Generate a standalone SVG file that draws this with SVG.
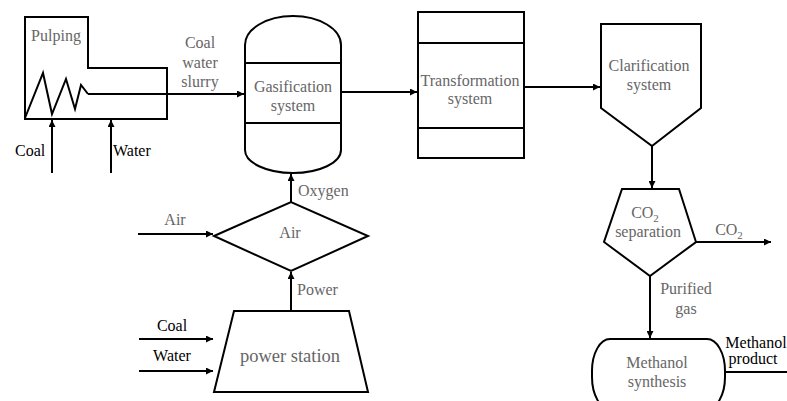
<svg xmlns="http://www.w3.org/2000/svg" width="787" height="401" viewBox="0 0 787 401" font-family="'Liberation Serif', 'Times New Roman', serif">
<defs>
<marker id="ah" viewBox="0 0 10 10" refX="10" refY="5" markerWidth="8" markerHeight="7" markerUnits="userSpaceOnUse" orient="auto">
<path d="M0,0 L10,5 L0,10 z" fill="#000"/>
</marker>
</defs>
<style>
.s{fill:#fff;stroke:#000;stroke-width:2;stroke-linejoin:miter}
.c{fill:none;stroke:#000;stroke-width:2}
.a{fill:none;stroke:#000;stroke-width:2;marker-end:url(#ah)}
.t{font-family:'Liberation Serif','Times New Roman',serif;font-size:16px;fill:#666}
.k{fill:#000}
.m{text-anchor:middle}
.big{font-size:18.5px}
</style>
<rect width="787" height="401" fill="#fff"/>
<g id="pulping">
<path class="s" d="M25,17 H88 V68 H167 V119 H25 Z"/>
<path class="c" d="M25,118 L43,73 L52,114 L66,79 L75,109 L81,85 L88,94"/>
<text class="t m" x="56" y="41">Pulping</text>
</g>
<g id="gasification">
<path class="s" d="M245,45 A48,29 0 0 1 341,45 V150 A48,23 0 0 1 245,150 Z"/>
<line class="c" x1="245" y1="63" x2="341" y2="63"/>
<line class="c" x1="245" y1="123" x2="341" y2="123"/>
<text class="t m" x="293" y="92">Gasification</text>
<text class="t m" x="293" y="111">system</text>
</g>
<g id="transformation">
<rect class="s" x="418" y="12" width="106" height="146"/>
<line class="c" x1="418" y1="43" x2="524" y2="43"/>
<line class="c" x1="418" y1="128" x2="524" y2="128"/>
<text class="t m" x="470" y="86">Transformation</text>
<text class="t m" x="470" y="104">system</text>
</g>
<g id="clarification">
<path class="s" d="M601,24 H701 V108 L652,146 L601,108 Z"/>
<text class="t m" x="649" y="71">Clarification</text>
<text class="t m" x="649" y="90">system</text>
</g>
<g id="co2sep">
<path class="s" d="M622,189 H679 L696,242 L650,276 L604,242 Z"/>
<text class="t m" x="645" y="218">CO<tspan font-size="11" dy="4">2</tspan></text>
<text class="t m" x="648" y="237">separation</text>
</g>
<g id="methanol">
<rect class="s" x="592" y="339" width="133" height="70" rx="18" ry="32"/>
<text class="t m" x="657" y="368">Methanol</text>
<text class="t m" x="657" y="387">synthesis</text>
</g>
<g id="air">
<path class="s" d="M214,236 L291,202 L368,236 L291,271 Z"/>
<text class="t m" x="290" y="238">Air</text>
</g>
<g id="power">
<path class="s" d="M234,311 H349 L368,392 H214 Z"/>
<text class="t m big" x="290" y="362">power station</text>
</g>
<g id="connectors">
<line class="a" x1="88" y1="94" x2="244" y2="94"/>
<line class="a" x1="52" y1="173" x2="52" y2="120"/>
<line class="a" x1="111" y1="173" x2="111" y2="120"/>
<line class="a" x1="341" y1="92" x2="417" y2="92"/>
<line class="a" x1="524" y1="87" x2="600" y2="87"/>
<line class="a" x1="652" y1="146" x2="652" y2="188"/>
<line class="a" x1="696" y1="242" x2="771" y2="242"/>
<line class="a" x1="650" y1="276" x2="650" y2="338"/>
<line class="c" x1="725" y1="372" x2="787" y2="372"/>
<line class="a" x1="291" y1="202" x2="291" y2="174"/>
<line class="a" x1="291" y1="311" x2="291" y2="272"/>
<line class="a" x1="138" y1="234" x2="213" y2="234"/>
<line class="a" x1="139" y1="339" x2="213" y2="339"/>
<line class="a" x1="139" y1="371" x2="213" y2="371"/>
</g>
<g id="labels">
<text class="t m" x="200" y="48">Coal</text>
<text class="t m" x="200" y="68">water</text>
<text class="t m" x="200" y="87">slurry</text>
<text class="t k" x="15" y="156">Coal</text>
<text class="t k" x="113" y="156">Water</text>
<text class="t" x="298" y="196">Oxygen</text>
<text class="t m" x="175" y="225">Air</text>
<text class="t" x="297" y="295">Power</text>
<text class="t k m" x="172" y="331">Coal</text>
<text class="t k m" x="172" y="361">Water</text>
<text class="t m" x="729" y="235">CO<tspan font-size="11" dy="4">2</tspan></text>
<text class="t m" x="686" y="294">Purified</text>
<text class="t m" x="686" y="314">gas</text>
<text class="t k m" x="756" y="348">Methanol</text>
<text class="t k m" x="753" y="364">product</text>
</g>
</svg>
